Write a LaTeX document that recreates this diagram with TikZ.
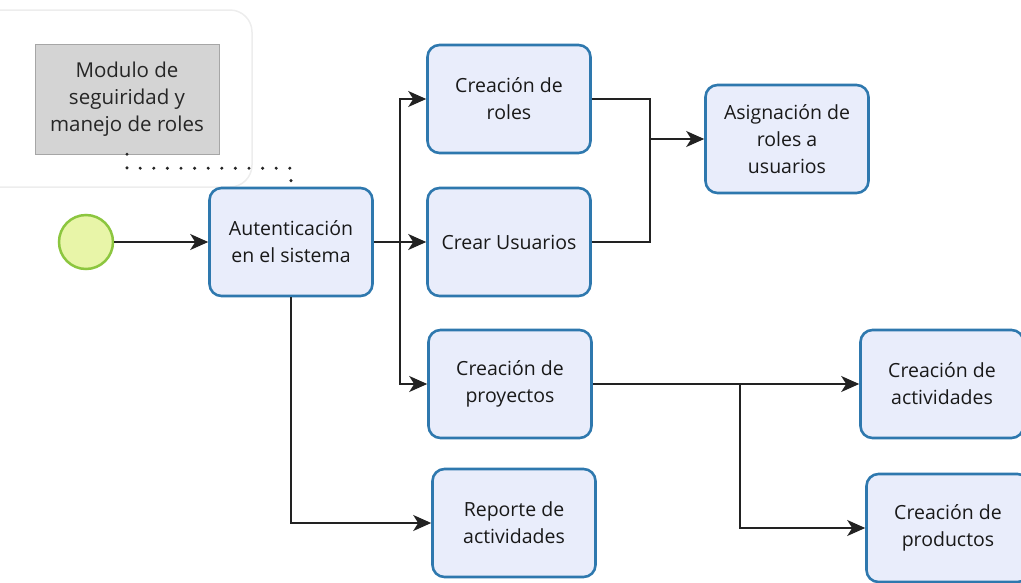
\documentclass[tikz,border=0pt]{standalone}
\usepackage{fontspec}
\setmainfont{Open Sans}
\usetikzlibrary{arrows.meta,positioning}
\definecolor{taskfill}{HTML}{E9EDFB}
\definecolor{taskline}{HTML}{2E78AE}
\definecolor{startfill}{HTML}{E8F5A8}
\definecolor{startline}{HTML}{8CC63F}
\definecolor{flowline}{HTML}{222222}

\begin{document}
\begin{tikzpicture}[x=1pt,y=-1pt,>={Stealth[length=18pt,width=16pt,inset=5pt]},
                    every text node part/.style={align=center},
                    font=\fontsize{19.5}{27}\selectfont]
  \tikzstyle{task}=[draw=taskline,fill=taskfill,line width=2.6pt,rounded corners=12pt,
                    minimum width=163pt,minimum height=108pt,text=black!90]
  \tikzstyle{flow}=[->,draw=flowline,line width=1.5pt]
  \useasboundingbox (0,0) rectangle (1021,582);
  \clip (0,0) rectangle (1021,582);

  % grupo
  \draw[black!7,line width=1.5pt,rounded corners=22pt] (-30,10) rectangle (252,187);
  \node[fill=black!17,draw=black!35,minimum width=184pt,minimum height=110pt,
        text=black!85,font=\fontsize{20.5}{27}\selectfont] (mod) at (127,99)
        {Modulo de\\seguiridad y\\manejo de roles};

  \node[circle,draw=startline,fill=startfill,line width=2.5pt,minimum size=54pt] (start) at (86,242) {};

  \node[task] (auth)  at (291,242) {Autenticación\\en el sistema};
  \node[task] (roles) at (509,99)  {Creación de\\roles};
  \node[task] (users) at (509,242) {Crear Usuarios};
  \node[task] (proj)  at (510,384) {Creación de\\proyectos};
  \node[task] (rep)   at (514,523) {Reporte de\\actividades};
  \node[task] (asig)  at (787,139) {Asignación de\\roles a\\usuarios};
  \node[task] (act)   at (942,384) {Creación de\\actividades};
  \node[task] (prod)  at (948,528) {Creación de\\productos};

  \coordinate (split) at (400,242);
  \coordinate (join) at (650,139);
  \coordinate (fork) at (740,384);

  % asociacion
  \draw[line width=3.4pt,line cap=round,dash pattern=on 0pt off 13.6pt,black!85]
    (mod.south) -- ++(0,14) -| (auth.north);

  \draw[flow] (start) -- (auth);
  \draw[flow] (auth) -- (users);
  \draw[flow] (split) |- (roles);
  \draw[flow] (split) |- (proj);
  \draw[flow] (auth.south) |- (rep);
  \draw[flow] (roles) -| (join) -- (asig);
  \draw[flow,-] (users) -| (join);
  \draw[flow] (proj) -- (act);
  \draw[flow] (fork) |- (prod);
\end{tikzpicture}
\end{document}
